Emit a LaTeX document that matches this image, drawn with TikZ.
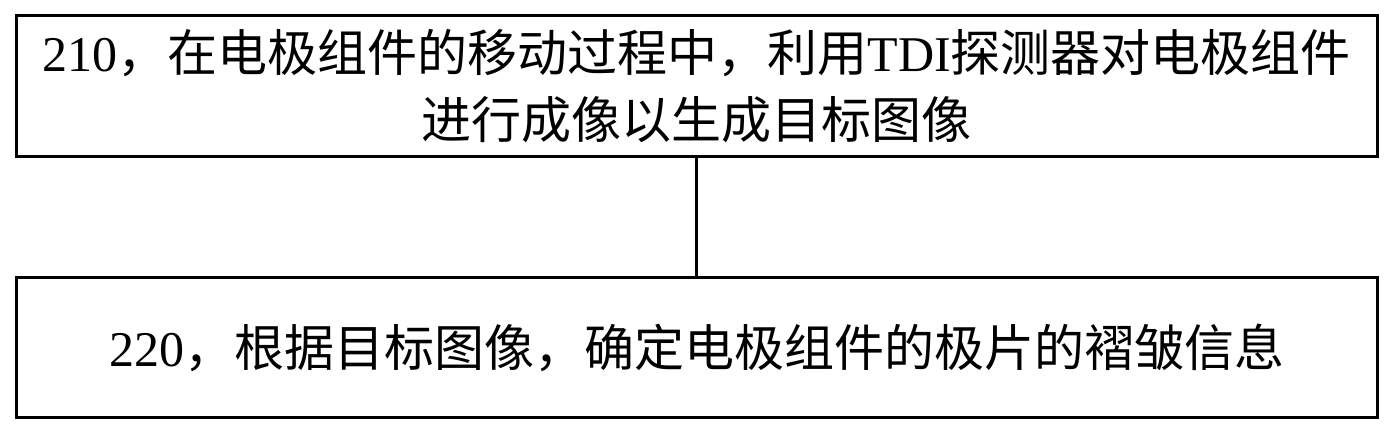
\documentclass[tikz,border=0pt]{standalone}
\usepackage{fontspec}
\setmainfont{Liberation Serif}
\newfontfamily\cjk{Noto Sans CJK SC}
\begin{document}
\begin{tikzpicture}[x=1pt,y=-1pt,
  stepbox/.style={draw=black, line width=3pt, rectangle, inner sep=0pt,
    minimum width=1360.5pt, align=center, font=\fontsize{50}{67}\selectfont}]
\useasboundingbox (0,0) rectangle (1393,435);
\fill[white] (0,0) rectangle (1393,435);
\node[stepbox, minimum height=141.5pt] (s1) at (696.75,86.25)
  {210{\cjk ，在电极组件的移动过程中，利用}TDI{\cjk 探测器对电极组件}\\{\cjk 进行成像以生成目标图像}};
\node[stepbox, minimum height=140pt] (s2) at (696.75,347.5)
  {220{\cjk ，根据目标图像，确定电极组件的极片的褶皱信息}};
\draw[line width=3pt] (s1.south) -- (s2.north);
\end{tikzpicture}
\end{document}
